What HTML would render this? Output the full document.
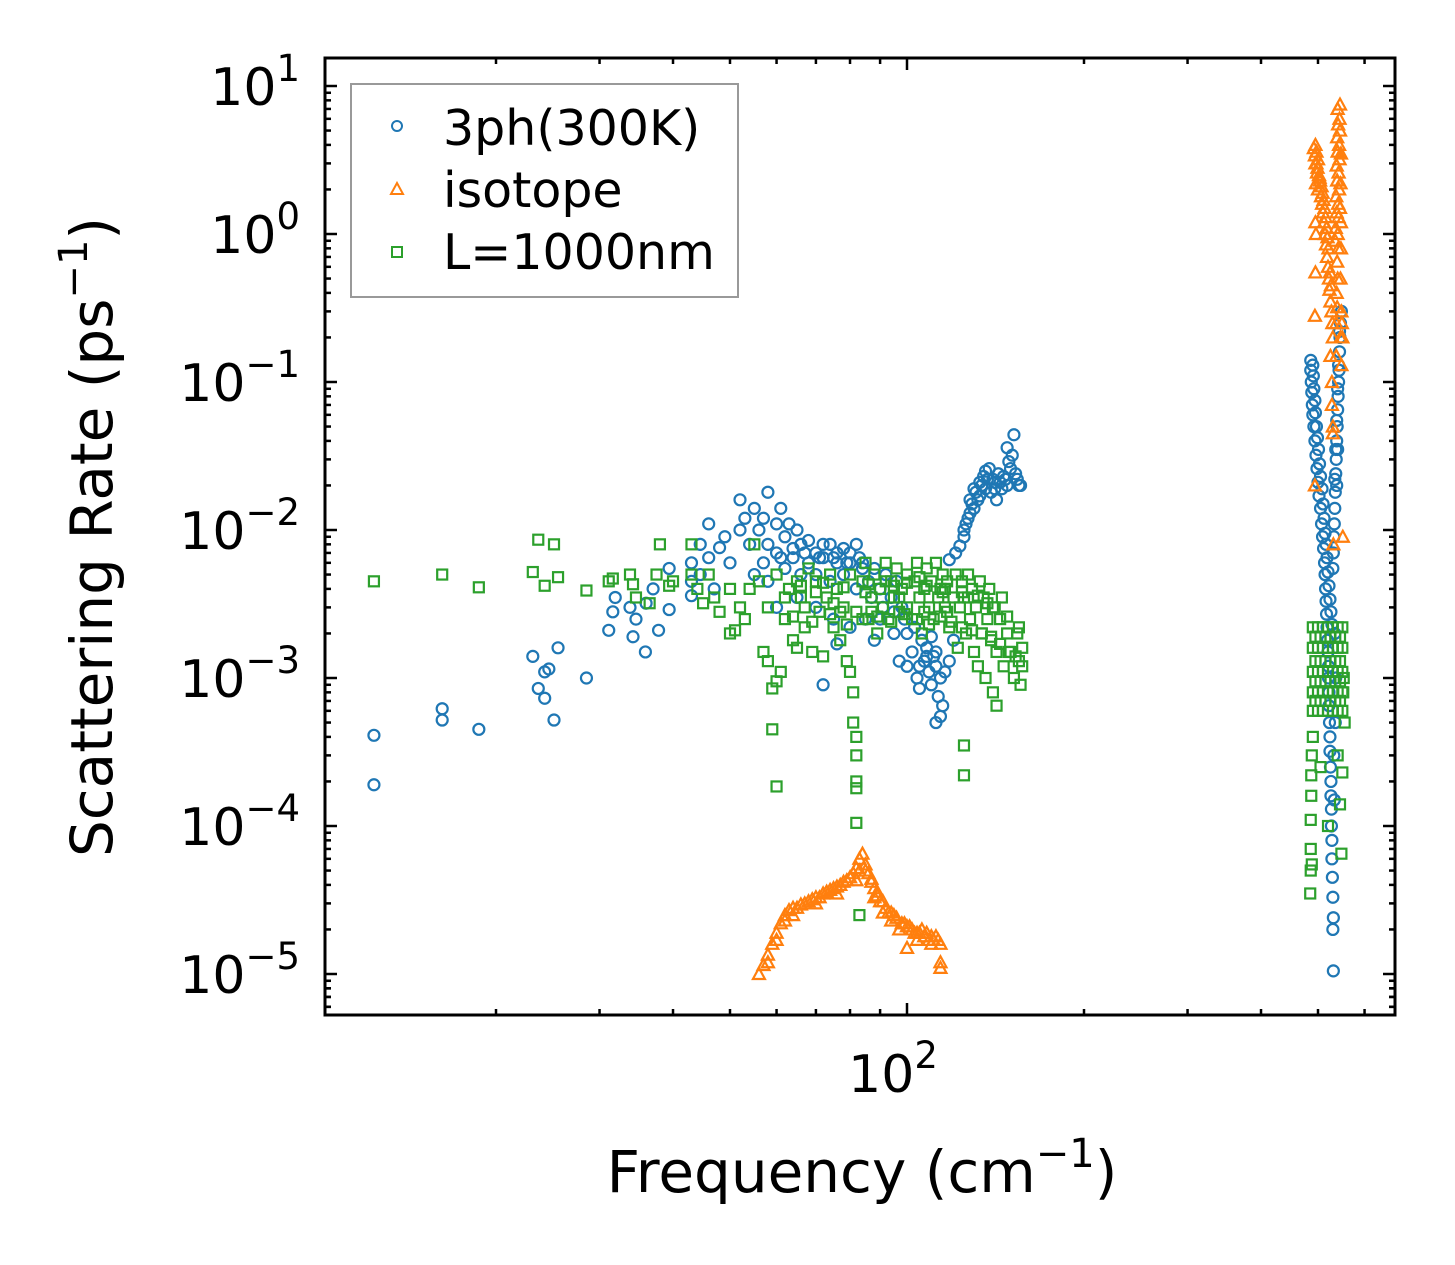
<!DOCTYPE html>
<html><head><meta charset="utf-8"><style>
html,body{margin:0;padding:0;background:#fff;}
svg{display:block;font-family:"DejaVu Sans","Liberation Sans",sans-serif;}
</style></head><body>
<svg id="chart" width="1455" height="1265" viewBox="0 0 1455 1265" xmlns="http://www.w3.org/2000/svg">
<rect width="1455" height="1265" fill="#fff"/>
<g id="ticks"></g>
<g id="marks"></g>
<rect x="325" y="58" width="1070" height="957" fill="none" stroke="#000" stroke-width="3"/>
<g id="ylabels" font-size="52" text-anchor="end"></g>
<text x="893" y="1092" font-size="52" text-anchor="middle">10<tspan dy="-24" font-size="37">2</tspan></text>
<text x="862" y="1192" font-size="58" text-anchor="middle">Frequency (cm<tspan dy="-25" font-size="40">−1</tspan><tspan dy="25">)</tspan></text>
<text transform="translate(112,537) rotate(-90)" font-size="58" text-anchor="middle">Scattering Rate (ps<tspan dy="-25" font-size="40">−1</tspan><tspan dy="25">)</tspan></text>
<g>
<rect x="351" y="84" width="387" height="213" fill="#fff" fill-opacity="0.8" stroke="#999" stroke-width="2"/>
<circle cx="397" cy="126" r="5" fill="none" stroke="#1f77b4" stroke-width="2"/>
<text x="443" y="145" font-size="49">3ph(300K)</text>
<path d="M397,183 L403,194 L391,194 Z" fill="none" stroke="#ff7f0e" stroke-width="2"/>
<text x="443" y="207" font-size="49">isotope</text>
<rect x="392" y="247" width="10" height="10" fill="none" stroke="#2ca02c" stroke-width="2"/>
<text x="443" y="269" font-size="49">L=1000nm</text>
</g>
</svg>
<script>
const yTickExps=[1,0,-1,-2,-3,-4,-5];
const xMajorTicks=[100];
const xMinorTicks=[20,30,40,50,60,70,80,90,200,300,400,500,600];
const blueF=[12.4,12.4,16.2,16.2,18.7,23.1,23.6,24.2,24.6,24.2,25.1,25.5,28.5,31.1,31.6,31.9,33.8,34.2,34.6,35.9,37.8,39.4,39.4,37,36,43,43,43,44.5,44.5,46,46,47,48,49,50,52,52,53,54,55,56,57,58,58,60,60,61,62,63,64,65,66,68,70,72,74,76,78,80,82,84,55,58,62,66,70,74,78,82,86,90,94,98,60,65,70,75,80,85,90,95,100,72,76,88,97,100,102,104,105,107,108,109,110,111,112,113,114,115,116,112,114,118,120,118,121,123,125,126,128,128,130,131,133,133,135,136,138,140,141,144,146,148,150,151,152,154,156,148,142,
64,68,72,76,80,84,88,92,96,57,61,67,71,75,79,83,87,91,95,99,103,106,110,105,108,112,
125,127,129,132,134,137,139,143,145,147,149,153,155,130,136,141,
486,486,487,488,489,490,492,494,496,498,500,502,505,507,509,511,513,514,515,516,517,518,519,520,521,521,522,522,523,524,524,525,526,526,527,527,528,528,529,530,531,530,531,536,534,535,532,533,
490,491,492,494,495,497,499,501,503,505,508,510,512,514,516,518,520,522,524,526,528,
548,546,545,544,543,542,541,540,539,538,537,536,535,534,533,532,531,530,538,540,544,542,540,538,536,534];
const blueR=[4.1e-4,1.9e-4,6.2e-4,5.2e-4,4.5e-4,1.4e-3,8.5e-4,1.1e-3,1.15e-3,7.3e-4,5.2e-4,1.6e-3,1.0e-3,2.1e-3,2.8e-3,3.5e-3,3.0e-3,1.9e-3,2.5e-3,1.5e-3,2.1e-3,5.5e-3,2.9e-3,4.0e-3,3.2e-3,6e-3,4.5e-3,3.6e-3,8e-3,5e-3,1.1e-2,6.5e-3,4e-3,7.6e-3,9e-3,6e-3,1.6e-2,1e-2,1.2e-2,8e-3,1.4e-2,1e-2,1.2e-2,1.8e-2,8e-3,1.1e-2,7e-3,1.4e-2,9e-3,1.1e-2,7.5e-3,1.0e-2,8e-3,8.5e-3,7e-3,8e-3,8e-3,7e-3,7.5e-3,7e-3,8e-3,6e-3,5e-3,4.5e-3,5.5e-3,5e-3,5e-3,4.5e-3,5e-3,4e-3,4.5e-3,4e-3,3.5e-3,3e-3,3e-3,3.5e-3,3e-3,2.5e-3,2.2e-3,2.5e-3,2.5e-3,2e-3,2e-3,9e-4,1.7e-3,1.8e-3,1.3e-3,1.2e-3,1.5e-3,1.0e-3,8.5e-4,1.3e-3,1.6e-3,1.1e-3,9e-4,1.4e-3,1.2e-3,7.5e-4,1.0e-3,6.5e-4,1.1e-3,5e-4,5.5e-4,1.3e-3,1.8e-3,6.3e-3,7e-3,7.8e-3,9e-3,1.1e-2,1.3e-2,1.6e-2,1.4e-2,1.8e-2,2.1e-2,1.7e-2,2.3e-2,1.9e-2,2.6e-2,2.2e-2,1.9e-2,2.1e-2,2.3e-2,2.0e-2,2.6e-2,3.2e-2,4.4e-2,2.2e-2,2.0e-2,3.6e-2,1.6e-2,
6.5e-3,6e-3,6.5e-3,6e-3,6e-3,5.5e-3,5.5e-3,5e-3,4.5e-3,6e-3,6.5e-3,7e-3,6.5e-3,6.5e-3,6e-3,6.5e-3,3.5e-3,3e-3,2.8e-3,2.5e-3,2.2e-3,1.8e-3,1.9e-3,1.2e-3,1.4e-3,1.5e-3,
1.0e-2,1.2e-2,1.5e-2,1.6e-2,2.0e-2,2.2e-2,1.8e-2,2.4e-2,1.9e-2,2.2e-2,2.9e-2,2.4e-2,2.0e-2,1.9e-2,2.5e-2,2.1e-2,
0.14,0.12,0.1,0.085,0.07,0.06,0.05,0.04,0.032,0.026,0.021,0.017,0.014,0.011,0.009,0.0075,0.006,0.005,0.004,0.0033,0.0027,0.0022,0.0018,0.0015,0.0012,0.001,8e-4,6.5e-4,5e-4,4e-4,3.2e-4,2.5e-4,2e-4,1.6e-4,1.3e-4,1e-4,8e-5,6e-5,4.5e-5,3.3e-5,2.4e-5,2e-5,1.05e-5,1e-3,2e-3,5e-4,3e-4,1.5e-4,
0.13,0.11,0.09,0.075,0.062,0.05,0.042,0.035,0.028,0.023,0.019,0.015,0.012,0.0095,0.008,0.0065,0.0052,0.0042,0.0034,0.0028,0.0023,
0.3,0.25,0.2,0.16,0.12,0.1,0.08,0.065,0.05,0.04,0.03,0.024,0.018,0.014,0.011,0.009,0.007,0.0055,0.02,0.035,0.22,0.13,0.09,0.055,0.035,0.022];
const orangeF=[56,57,58,59,60,61,62,63,64,66,68,70,72,74,76,78,80,81,82,83,84,85,86,87,88,89,90,92,94,96,98,100,102,104,106,108,110,112,113,114,100,114,114,64,70,76,82,88,94,104,110,97,91,
58,60,62,65,67,69,71,73,75,77,79,83,85,87,89,91,93,95,99,101,103,105,107,109,111,
495,497,500,495,498,503,496,500,506,508,510,512,514,516,518,520,522,523,525,527,529,530,495,496,495,494,494,525,528,530,530,531,528,
492,494,497,499,502,504,507,509,511,513,515,517,519,521,524,526,
545,544,545,543,544,542,543,541,542,540,541,539,540,538,539,537,548,549,550,546,548,546,547,547,545,537,551,
540,541,539,540,538,539,537,538,536,535,546,547];
const orangeR=[1.0e-5,1.15e-5,1.35e-5,1.6e-5,1.9e-5,2.2e-5,2.5e-5,2.7e-5,2.8e-5,2.95e-5,3.1e-5,3.3e-5,3.5e-5,3.7e-5,3.9e-5,4.2e-5,4.5e-5,4.8e-5,5.2e-5,6e-5,6.5e-5,5.5e-5,4.8e-5,4.2e-5,3.8e-5,3.4e-5,3.1e-5,2.8e-5,2.6e-5,2.4e-5,2.2e-5,2.1e-5,2e-5,1.9e-5,2e-5,1.9e-5,1.8e-5,1.8e-5,1.7e-5,1.6e-5,1.5e-5,1.1e-5,1.2e-5,2.5e-5,3e-5,3.5e-5,4.3e-5,3.3e-5,2.3e-5,1.7e-5,1.6e-5,2e-5,2.6e-5,
1.2e-5,1.7e-5,2.3e-5,2.8e-5,3e-5,3.2e-5,3.3e-5,3.6e-5,3.8e-5,4e-5,4.3e-5,5e-5,5e-5,4.4e-5,3.6e-5,3.1e-5,2.6e-5,2.5e-5,2.2e-5,2.1e-5,1.9e-5,1.9e-5,1.8e-5,1.7e-5,1.7e-5,
4.0,3.6,3.2,3,2.6,2.4,2.2,2.0,1.8,1.6,1.4,1.2,1.0,0.85,0.7,0.6,0.5,0.42,0.35,0.3,0.25,0.2,1.2,1.0,0.55,0.28,0.02,0.15,0.1,0.05,0.045,0.008,0.07,
3.8,3.4,3.0,2.8,2.5,2.3,2.1,1.9,1.7,1.5,1.3,1.1,0.95,0.8,0.55,0.45,
7.5,6,5,4,3.2,2.6,2,1.6,1.3,1.0,0.8,0.65,0.5,0.4,0.32,0.25,0.3,0.25,0.2,0.2,0.13,0.5,0.8,1.2,1.5,0.15,0.009,
7,5.5,4.5,3.6,2.9,2.3,1.8,1.4,1.1,0.9,2.2,3.5];
const greenF=[12.4,16.2,18.7,23.1,23.6,24.2,25.1,25.5,28.5,31.1,31.6,33.8,34.2,34.6,36.5,37.5,38,39.4,40,43,43,44,45,46,47,48,50,50,51,52,53,54,55,56,57,58,58,59,59,60,60,61,62,63,64,65,66,67,68,69,70,71,72,73,74,75,76,77,78,79,80,80,81,81,82,82,82,82,82,83,82,84,85,86,87,88,89,90,91,92,93,94,95,96,97,98,100,100,102,103,104,105,106,107,108,109,110,111,112,113,114,115,116,117,118,120,121,122,123,124,125,125,125,126,127,128,129,130,131,132,133,134,135,136,137,138,139,140,140,142,142,144,145,146,148,150,152,154,155,156,157,157,60,65,70,75,85,95,105,115,62,67,77,87,97,107,117,127,137,
64,69,74,79,84,89,94,99,104,109,114,119,124,129,134,139,144,149,153,66,72,78,86,92,100,108,116,124,132,141,148,155,
490,490,490,490,490,500,500,500,500,500,510,510,510,510,510,520,520,520,520,520,530,530,530,530,530,540,540,540,540,540,550,550,550,550,550,
495,495,495,495,505,505,505,505,515,515,515,515,525,525,525,525,535,535,535,535,545,545,545,545,
490,488,487,487,486,486,486,485,488,505,520,540,545,550,548,555,552,553];
const greenR=[4.5e-3,5.0e-3,4.1e-3,5.2e-3,8.6e-3,4.2e-3,8e-3,4.8e-3,3.9e-3,4.5e-3,4.7e-3,5e-3,4.3e-3,3.5e-3,3.2e-3,5e-3,8e-3,4.2e-3,4.5e-3,8e-3,5e-3,4e-3,3.2e-3,5e-3,3.5e-3,2.8e-3,4e-3,2e-3,2.1e-3,3e-3,2.5e-3,4e-3,8e-3,4.5e-3,1.5e-3,3e-3,1.3e-3,8.5e-4,4.5e-4,1.85e-4,9.5e-4,1.1e-3,2.5e-3,4e-3,1.8e-3,1.6e-3,3.5e-3,2.2e-3,5.5e-3,1.5e-3,4.5e-3,2.8e-3,1.4e-3,3.5e-3,5e-3,2.2e-3,4e-3,1.8e-3,3e-3,1.3e-3,5e-3,1.1e-3,8e-4,5e-4,4e-4,3e-4,2e-4,1.05e-4,1.8e-4,2.5e-5,2.8e-3,4.5e-3,6e-3,2.5e-3,3.5e-3,5e-3,2e-3,4e-3,3e-3,6e-3,2.5e-3,4.5e-3,3.5e-3,5.5e-3,2.8e-3,4e-3,5e-3,3e-3,2.5e-3,4.5e-3,6e-3,3.5e-3,2e-3,4e-3,5.5e-3,3e-3,4.5e-3,2.5e-3,6e-3,3.5e-3,4e-3,5e-3,3e-3,4.5e-3,2.2e-3,3.5e-3,5e-3,1.6e-3,3e-3,4.5e-3,3.5e-3,2.2e-4,3.5e-4,2e-3,5e-3,2.5e-3,4e-3,1.5e-3,3e-3,1.2e-3,4.5e-3,2e-3,3.5e-3,1e-3,2.5e-3,4e-3,1.8e-3,8e-4,3e-3,1.5e-3,6.5e-4,2.5e-3,3.5e-3,1.2e-3,2e-3,1.5e-3,1e-3,2e-3,1.3e-3,9e-4,1.2e-3,1.6e-3,5e-3,4.5e-3,3.8e-3,3.2e-3,3.8e-3,4.2e-3,4.8e-3,3.8e-3,3.5e-3,3e-3,2.8e-3,2.8e-3,3.5e-3,2.8e-3,2.8e-3,3.5e-3,3.2e-3,
2.6e-3,2.4e-3,2.7e-3,2.3e-3,2.5e-3,2.6e-3,2.4e-3,2.7e-3,2.5e-3,2.3e-3,2.6e-3,2.4e-3,2.2e-3,2.1e-3,2.0e-3,1.9e-3,1.7e-3,1.5e-3,1.4e-3,4.2e-3,4.4e-3,4.1e-3,4.3e-3,4.5e-3,4.4e-3,4.2e-3,4.0e-3,3.8e-3,3.6e-3,3.0e-3,2.6e-3,2.2e-3,
2.2e-3,1.6e-3,1.1e-3,8e-4,6e-4,2.2e-3,1.6e-3,1.1e-3,8e-4,6e-4,2.2e-3,1.6e-3,1.1e-3,8e-4,6e-4,2.2e-3,1.6e-3,1.1e-3,8e-4,6e-4,2.2e-3,1.6e-3,1.1e-3,8e-4,6e-4,2.2e-3,1.6e-3,1.1e-3,8e-4,6e-4,2.2e-3,1.6e-3,1.1e-3,8e-4,6e-4,
1.9e-3,1.3e-3,9.5e-4,7e-4,1.9e-3,1.3e-3,9.5e-4,7e-4,1.9e-3,1.3e-3,9.5e-4,7e-4,1.9e-3,1.3e-3,9.5e-4,7e-4,1.9e-3,1.3e-3,9.5e-4,7e-4,1.9e-3,1.3e-3,9.5e-4,7e-4,
4e-4,3e-4,2.2e-4,1.6e-4,1.1e-4,7e-5,5e-5,3.5e-5,5.5e-5,2.5e-4,1e-4,3e-4,1.4e-4,2.3e-4,6.5e-5,5e-4,8e-4,1e-3];

const NS='http://www.w3.org/2000/svg';
const X0=325,X1=1395,Y0=58,Y1=1015;
function xs(f){return 907+588*Math.log10(f/100);}
function ys(r){return 974-148*(Math.log10(r)+5);}
function mk(tag,attrs,parent){const e=document.createElementNS(NS,tag);for(const k in attrs)e.setAttribute(k,attrs[k]);parent.appendChild(e);return e;}
const tg=document.getElementById('ticks');
function tick(x1,y1,x2,y2,name){const l=mk('line',{x1:x1,y1:y1,x2:x2,y2:y2,stroke:'#000','stroke-width':2.5},tg);

}
const yl=document.getElementById('ylabels');
yTickExps.forEach(e=>{const y=ys(Math.pow(10,e));
 tick(X0,y,X0+12,y,'y-major-tick');tick(X1,y,X1-12,y,'y-major-tick');
 const t=mk('text',{x:300,y:y+19},yl);
 
 
 t.innerHTML='10<tspan dy="-24" font-size="37">'+(e<0?'−'+(-e):e)+'</tspan>';
 for(let m=2;m<=9;m++){const yy=ys(m*Math.pow(10,e-1));if(yy<Y1&&yy>Y0){tick(X0,yy,X0+6,yy,'y-minor-tick');tick(X1,yy,X1-6,yy,'y-minor-tick');}}
});
for(let m=2;m<=9;m++){const yy=ys(m*10);if(yy>Y0){tick(X0,yy,X0+6,yy,'y-minor-tick');tick(X1,yy,X1-6,yy,'y-minor-tick');}}
for(let m=6;m<=9;m++){const yy=ys(m*1e-6);if(yy<Y1){tick(X0,yy,X0+6,yy,'y-minor-tick');tick(X1,yy,X1-6,yy,'y-minor-tick');}}
xMajorTicks.forEach(f=>{const x=xs(f);tick(x,Y1,x,Y1-12,'x-major-tick');tick(x,Y0,x,Y0+12,'x-major-tick');});
xMinorTicks.forEach(f=>{const x=xs(f);if(x>X0&&x<X1){tick(x,Y1,x,Y1-6,'x-minor-tick');tick(x,Y0,x,Y0+6,'x-minor-tick');}});
const mg=document.getElementById('marks');
blueF.forEach((f,i)=>{const c=mk('circle',{cx:xs(f),cy:ys(blueR[i]),r:5.5,fill:'none',stroke:'#1f77b4','stroke-width':2.2},mg);

});
orangeF.forEach((f,i)=>{const x=xs(f),y=ys(orangeR[i]);const p=mk('path',{d:`M${x},${y-6} L${x+6},${y+5} L${x-6},${y+5} Z`,fill:'none',stroke:'#ff7f0e','stroke-width':2.2},mg);

});
greenF.forEach((f,i)=>{const x=xs(f),y=ys(greenR[i]);const s=mk('rect',{x:x-5,y:y-5,width:10,height:10,fill:'none',stroke:'#2ca02c','stroke-width':2.2},mg);

});
</script>
</body></html>
